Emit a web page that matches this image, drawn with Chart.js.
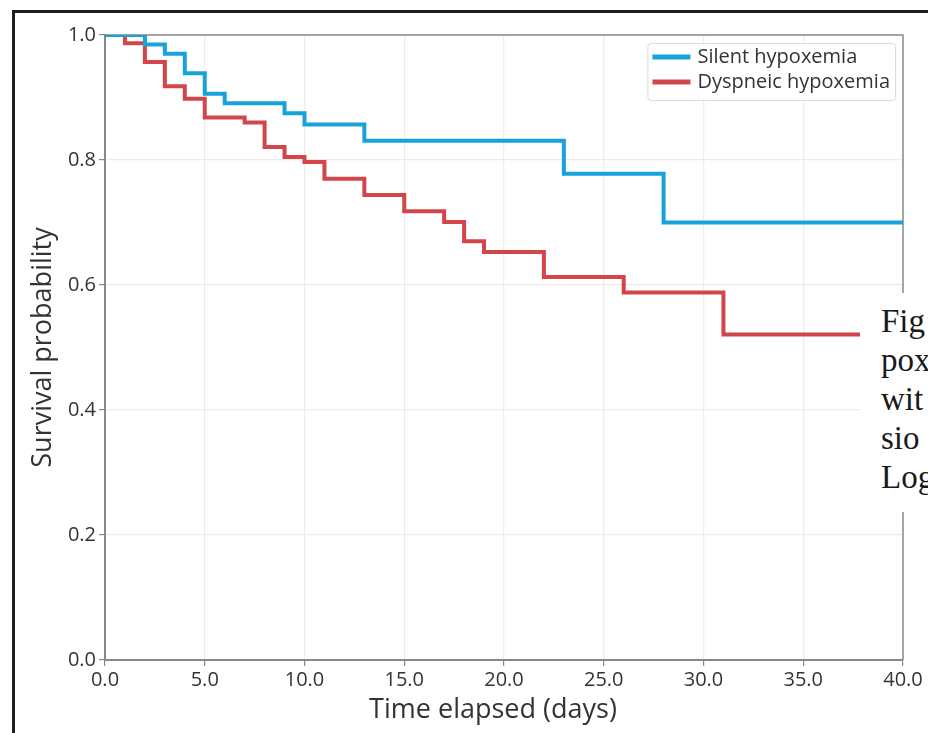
<!DOCTYPE html>
<html>
<head>
<meta charset="utf-8">
<script src="https://cdn.jsdelivr.net/npm/chart.js@4.4.0/dist/chart.umd.min.js"></script>
<style>
  html, body { margin: 0; padding: 0; background: #fff; overflow: hidden; }
  #wrap { position: relative; width: 928px; height: 733px; overflow: hidden; }
  #frame {
    position: absolute; left: 12px; top: 10px; width: 1000px; height: 1000px;
    border-left: 3px solid #1e1e1e; border-top: 3px solid #1e1e1e;
    pointer-events: none;
  }
  #caption {
    position: absolute; left: 860px; top: 293px; width: 68px; height: 219px;
    background: #fff; overflow: hidden; white-space: nowrap;
    font-family: "Liberation Serif", serif; font-size: 33px; line-height: 39px;
    color: #1a1a1a; padding: 9px 0 0 21px; box-sizing: border-box;
  }
</style>
</head>
<body>
<div id="wrap">
  <canvas id="km" width="928" height="733"></canvas>
  <div id="frame"></div>
  <div id="caption">Fig<br>pox<br>wit<br>sio<br>Log</div>
</div>
<script>
// Kaplan-Meier: время события (дни) и вероятность выживания после него
const silentTimes = [0, 2, 3, 4, 5, 6, 9, 10, 13, 23, 28, 40];
const silentSurv = [1.0, 0.985, 0.970, 0.939, 0.906, 0.891, 0.875, 0.857, 0.831, 0.778, 0.700, 0.700];

const dyspneicTimes = [0, 1, 2, 3, 4, 5, 7, 8, 9, 10, 11, 13, 15, 17, 18, 19, 22, 26, 31, 40];
const dyspneicSurv = [1.0, 0.987, 0.957, 0.918, 0.898, 0.868, 0.860, 0.821, 0.805, 0.797, 0.770, 0.744, 0.718, 0.701, 0.670, 0.653, 0.613, 0.588, 0.521, 0.521];

const seriesLabels = ['Silent hypoxemia', 'Dyspneic hypoxemia'];
const xTicks = [0, 5, 10, 15, 20, 25, 30, 35, 40];
const yTicks = [0, 0.2, 0.4, 0.6, 0.8, 1.0];
const xTitle = 'Time elapsed (days)';
const yTitle = 'Survival probability';

const BLUE = '#17a3da';
const RED = '#d1454b';
const FONT = '"Open Sans", "Noto Sans", sans-serif';

function toPoints(times, values) {
    return times.map((t, i) => ({ x: t, y: values[i] }));
}

// Легенда внутри области графика (правый верхний угол)
const insideLegend = {
    id: 'insideLegend',
    afterDatasetsDraw(chart) {
        const { ctx, chartArea } = chart;
        ctx.save();
        ctx.font = '20px ' + FONT;
        const widths = chart.data.datasets.map(ds => ctx.measureText(ds.label).width);
        const lineLen = 38, gap = 7, pad = 5, rowH = 25;
        const w = pad + lineLen + gap + Math.max(...widths) + pad;
        const h = rowH * chart.data.datasets.length + 7;
        const x0 = chartArea.right - 8 - w;
        const y0 = chartArea.top + 8;
        ctx.fillStyle = 'rgba(255,255,255,0.9)';
        ctx.strokeStyle = '#dcdcdc';
        ctx.lineWidth = 1;
        ctx.beginPath();
        ctx.roundRect(x0 + 0.5, y0 + 0.5, w, h, 3);
        ctx.fill();
        ctx.stroke();
        chart.data.datasets.forEach((ds, i) => {
            const cy = y0 + 14 + i * rowH;
            ctx.strokeStyle = ds.borderColor;
            ctx.lineWidth = 5;
            ctx.beginPath();
            ctx.moveTo(x0 + pad, cy);
            ctx.lineTo(x0 + pad + lineLen, cy);
            ctx.stroke();
            ctx.fillStyle = '#333';
            ctx.textBaseline = 'middle';
            ctx.fillText(ds.label, x0 + pad + lineLen + gap, cy);
        });
        ctx.restore();
    }
};

// Верхняя и правая рамка области графика + подпись оси X (чуть левее центра, как в оригинале)
const frameBox = {
    id: 'frameBox',
    beforeDatasetsDraw(chart) {
        const { ctx, chartArea } = chart;
        ctx.save();
        ctx.strokeStyle = '#8a8a8a';
        ctx.lineWidth = 1.5;
        ctx.beginPath();
        ctx.moveTo(chartArea.left, chartArea.top);
        ctx.lineTo(chartArea.right, chartArea.top);
        ctx.lineTo(chartArea.right, chartArea.bottom);
        ctx.stroke();

        ctx.font = '27px ' + FONT;
        ctx.fillStyle = '#333';
        ctx.textAlign = 'center';
        ctx.textBaseline = 'middle';
        ctx.fillText(xTitle, (chartArea.left + chartArea.right) / 2 - 11, chartArea.bottom + 50);
        ctx.restore();
    }
};

const ctx = document.getElementById('km').getContext('2d');
new Chart(ctx, {
    type: 'line',
    data: {
        datasets: [
            {
                label: seriesLabels[0],
                data: toPoints(silentTimes, silentSurv),
                borderColor: BLUE,
                borderWidth: 4,
                stepped: 'before',
                pointRadius: 0,
                fill: false
            },
            {
                label: seriesLabels[1],
                data: toPoints(dyspneicTimes, dyspneicSurv),
                borderColor: RED,
                borderWidth: 4,
                stepped: 'before',
                pointRadius: 0,
                fill: false
            }
        ]
    },
    options: {
        responsive: false,
        animation: false,
        layout: { padding: { left: 0, top: 35, right: 25, bottom: 0 } },
        plugins: {
            legend: { display: false },
            tooltip: { enabled: false }
        },
        scales: {
            x: {
                type: 'linear',
                min: 0,
                max: 40,
                afterBuildTicks: scale => { scale.ticks = xTicks.map(v => ({ value: v })); },
                afterFit: scale => { scale.height = 73; },
                ticks: {
                    callback: v => v.toFixed(1),
                    color: '#333',
                    font: { family: FONT, size: 20 },
                    padding: 2,
                    maxRotation: 0
                },
                grid: { color: '#ececec', tickColor: '#888', tickLength: 6, lineWidth: 1.2 },
                border: { color: '#888', width: 2 }
            },
            y: {
                type: 'linear',
                min: 0,
                max: 1,
                afterBuildTicks: scale => { scale.ticks = yTicks.map(v => ({ value: v })); },
                afterFit: scale => { scale.width = 105; },
                ticks: {
                    callback: v => v.toFixed(1),
                    color: '#333',
                    font: { family: FONT, size: 20 },
                    padding: 3
                },
                grid: { color: '#ececec', tickColor: '#888', tickLength: 6, lineWidth: 1.2 },
                border: { color: '#888', width: 2 },
                title: {
                    display: true,
                    text: yTitle,
                    color: '#333',
                    font: { family: FONT, size: 27 },
                    padding: { top: 27, bottom: 0 }
                }
            }
        }
    },
    plugins: [frameBox, insideLegend]
});
</script>
</body>
</html>
